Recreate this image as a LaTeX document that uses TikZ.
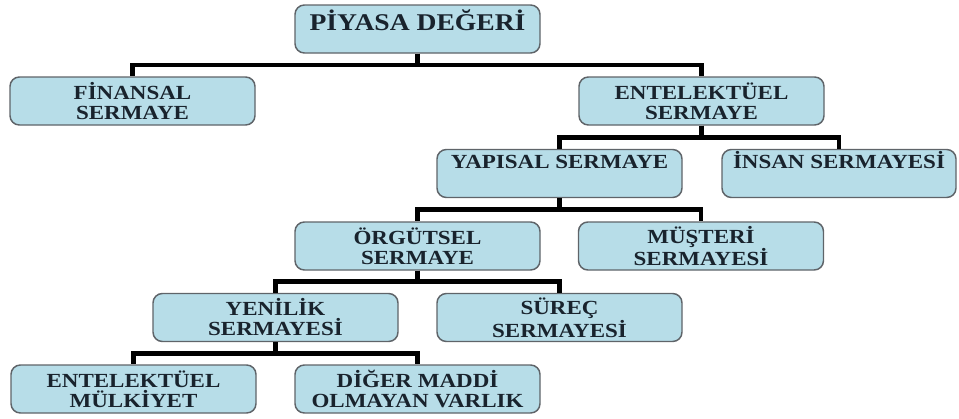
\documentclass[tikz,border=0pt]{standalone}
\usepackage{fontspec}
\newfontfamily\boxfont[FakeStretch=1.15]{Liberation Serif}
\definecolor{boxblue}{RGB}{183, 221, 232}
\definecolor{boxline}{RGB}{95, 100, 105}
\definecolor{boxtext}{RGB}{25, 35, 45}
\usetikzlibrary{calc, positioning}

\begin{document}
\begin{tikzpicture}[x=0.75pt, y=-0.75pt,
  box/.style={draw=boxline, line width=1.1pt, fill=boxblue, rounded corners=7pt,
    minimum width=183.75pt, minimum height=36pt, inner sep=2pt, align=center,
    text=boxtext, font=\boxfont\bfseries\fontsize{15}{15}\selectfont},
  oneline/.style={text height=10.5pt, text depth=18pt},
  topbox/.style={font=\boxfont\bfseries\fontsize{18}{18}\selectfont, text height=13pt, text depth=11.5pt},
  elbow/.style={line width=3.4pt, to path={|- ($(\tikztostart)!0.5!(\tikztotarget)$) -| (\tikztotarget)}},
]
\useasboundingbox (0,0) rectangle (959,418);

% Top
\node[box, topbox] (piyasa) at (417.5,29) {PİYASA DEĞERİ};

% Level 1
\node[box] (finansal) at (132.5,101) {FİNANSAL\\SERMAYE};
\node[box] (entel) at (701.5,101) {ENTELEKTÜEL\\SERMAYE};

% Level 2
\node[box, oneline] (yapisal) at (559.5,173.5) {YAPISAL SERMAYE};
\node[box, oneline, minimum width=175.5pt] (insan) at (839,173.5) {İNSAN SERMAYESİ};

% Level 3
\node[box] (orgutsel) at (417.5,246) {ÖRGÜTSEL\\SERMAYE};
\node[box] (musteri) at (701,246) {MÜŞTERİ\\SERMAYESİ};

% Level 4
\node[box] (yenilik) at (275.5,317.5) {YENİLİK\\SERMAYESİ};
\node[box] (surec) at (559.5,317.5) {SÜREÇ\\SERMAYESİ};

% Level 5
\node[box] (mulkiyet) at (133.5,389) {ENTELEKTÜEL\\MÜLKİYET};
\node[box] (diger) at (417.5,389) {DİĞER MADDİ\\OLMAYAN VARLIK};

% Connectors
\draw[elbow] (piyasa.south) to (finansal.north);
\draw[elbow] (piyasa.south) to (entel.north);
\draw[elbow] (entel.south) to (yapisal.north);
\draw[elbow] (entel.south) to (insan.north);
\draw[elbow] (yapisal.south) to (orgutsel.north);
\draw[elbow] (yapisal.south) to (musteri.north);
\draw[elbow] (orgutsel.south) to (yenilik.north);
\draw[elbow] (orgutsel.south) to (surec.north);
\draw[elbow] (yenilik.south) to (mulkiyet.north);
\draw[elbow] (yenilik.south) to (diger.north);
\end{tikzpicture}
\end{document}
